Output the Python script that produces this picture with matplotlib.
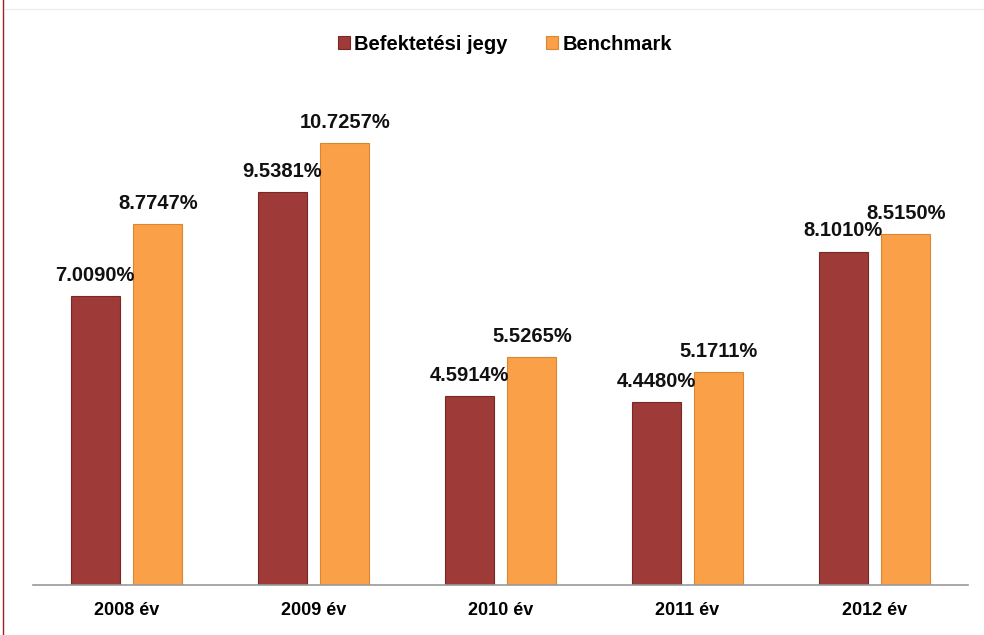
import matplotlib.pyplot as plt
import numpy as np
from matplotlib.lines import Line2D

years = ["2008 év", "2009 év", "2010 év", "2011 év", "2012 év"]
fund = [7.0090, 9.5381, 4.5914, 4.4480, 8.1010]
bench = [8.7747, 10.7257, 5.5265, 5.1711, 8.5150]
series_names = ["Befektetési jegy", "Benchmark"]

plt.rcParams["font.family"] = ["Liberation Sans", "DejaVu Sans"]

fig = plt.figure(figsize=(9.84, 6.35), dpi=100)
ax = fig.add_axes([33 / 984, 1 - 585 / 635, 935 / 984, 494 / 635])

x = np.arange(len(years))
w = 0.262
off = 0.168
red = "#9E3A38"
orange = "#F9A049"

b1 = ax.bar(x - off, fund, w, color=red, edgecolor="#7A2826", linewidth=0.8, label=series_names[0])
b2 = ax.bar(x + off, bench, w, color=orange, edgecolor="#D98630", linewidth=0.8, label=series_names[1])

for bars, vals in ((b1, fund), (b2, bench)):
    for rect, v in zip(bars, vals):
        ax.annotate(f"{v:.4f}%", (rect.get_x() + rect.get_width() / 2, v),
                    xytext=(0, 8), textcoords="offset points",
                    ha="center", va="bottom", fontsize=14.5, fontweight="bold", color="#111111")

ax.set_xlim(-0.5, len(years) - 0.5)
ax.set_ylim(0, 12)
ax.set_xticks(x)
ax.set_xticklabels(years, fontsize=13, fontweight="bold")
ax.tick_params(axis="x", length=0, pad=12)
ax.set_yticks([])
for s in ("top", "right", "left"):
    ax.spines[s].set_visible(False)
ax.spines["bottom"].set_color("#999999")
ax.spines["bottom"].set_linewidth(1.2)

fig.legend(handles=[b1, b2], labels=series_names, loc="center", bbox_to_anchor=(505 / 984, 1 - 44 / 635),
           ncol=2, frameon=False, prop={"weight": "bold", "size": 14.5},
           handlelength=0.6, handleheight=0.6, handletextpad=0.2, columnspacing=1.9)

fig.add_artist(Line2D([3 / 984, 3 / 984], [0, 1], color="#A02020", linewidth=1.0))
fig.add_artist(Line2D([5 / 984, 1], [1 - 9 / 635, 1 - 9 / 635], color="#EEEEEE", linewidth=1.0))

fig.savefig("out.png", dpi=100)
